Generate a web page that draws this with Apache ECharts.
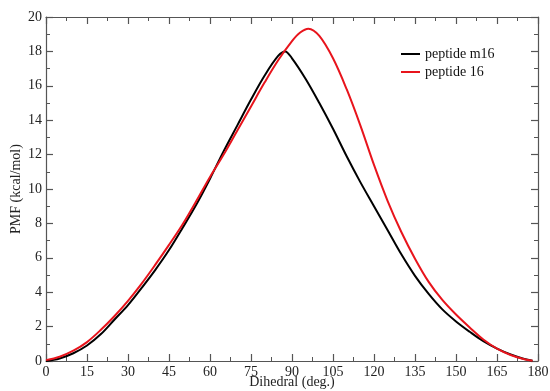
<!DOCTYPE html>
<html>
<head>
<meta charset="utf-8">
<script src="https://cdn.jsdelivr.net/npm/echarts@6/dist/echarts.min.js"></script>
<style>html,body{margin:0;padding:0;background:#fff}#c{width:550px;height:391px}</style>
</head>
<body>
<div id="c"></div>
<script>
var m16Deg = [0,5,10,15,20,25,30,35,40,45,50,55,60,65,70,75,80,85,87.5,90,95,100,105,110,115,120,125,130,135,140,145,150,155,160,165,170,175,178];
var m16Val = [0.0,0.15,0.45,0.9,1.55,2.4,3.25,4.25,5.3,6.45,7.75,9.1,10.6,12.2,13.7,15.2,16.6,17.75,18.0,17.6,16.4,15.0,13.5,11.9,10.4,9.0,7.6,6.2,4.95,3.9,3.0,2.3,1.7,1.15,0.72,0.38,0.12,0.02];
var p16Deg = [0,5,10,15,20,25,30,35,40,45,50,55,60,65,70,75,80,85,90,93,96,100,105,110,115,120,125,130,135,140,145,150,155,160,165,170,175,178];
var p16Val = [0.05,0.25,0.6,1.1,1.8,2.6,3.5,4.5,5.6,6.75,7.95,9.3,10.7,12.0,13.4,14.8,16.2,17.5,18.6,19.1,19.32,18.9,17.6,15.8,13.7,11.4,9.3,7.5,5.95,4.6,3.55,2.7,1.95,1.25,0.72,0.35,0.1,0.02];
var xTicks = {min:0, max:180, interval:15};
var yTicks = {min:0, max:20, interval:2};

function pairs(xs, ys){ return xs.map(function(x,i){return [x, ys[i]];}); }

var font = '"Liberation Serif","DejaVu Serif",serif';
var axisCol = '#555';
function axisBase(extra){
  var o = {
    type:'value',
    nameMoveOverlap:false,
    axisLine:{show:true, onZero:false, lineStyle:{color:axisCol, width:1.2}},
    axisTick:{show:true, inside:true, length:7, lineStyle:{color:axisCol, width:1.2}},
    minorTick:{show:true, splitNumber:2, length:4, lineStyle:{color:axisCol, width:1}},
    splitLine:{show:false},
    axisLabel:{color:'#222', fontFamily:font, fontSize:14}
  };
  for (var k in extra) o[k] = extra[k];
  return o;
}

var chart = echarts.init(document.getElementById('c'), null, {renderer:'canvas'});
chart.setOption({
  animation:false,
  backgroundColor:'#fff',
  grid:{left:46, right:12, top:17, bottom:30, containLabel:false, outerBoundsMode:'none'},
  legend:{
    orient:'vertical', left:396, top:42, itemWidth:19, itemHeight:2, itemGap:4,
    icon:'rect',
    textStyle:{fontFamily:font, fontSize:14, color:'#111'},
    data:['peptide m16','peptide 16']
  },
  xAxis:[
    axisBase({position:'bottom', min:xTicks.min, max:xTicks.max, interval:xTicks.interval,
      name:'Dihedral (deg.)', nameLocation:'middle', nameGap:14,
      nameTextStyle:{fontFamily:font, fontSize:14, color:'#222'},
      axisLabel:{color:'#222', fontFamily:font, fontSize:14, margin:4}}),
    axisBase({position:'top', min:xTicks.min, max:xTicks.max, interval:xTicks.interval,
      axisLabel:{show:false}})
  ],
  yAxis:[
    axisBase({position:'left', min:yTicks.min, max:yTicks.max, interval:yTicks.interval,
      name:'PMF (kcal/mol)', nameLocation:'middle', nameGap:23,
      nameTextStyle:{fontFamily:font, fontSize:14, color:'#222'},
      axisLabel:{color:'#222', fontFamily:font, fontSize:14, margin:4}}),
    axisBase({position:'right', min:yTicks.min, max:yTicks.max, interval:yTicks.interval,
      axisLabel:{show:false}})
  ],
  series:[
    {name:'peptide m16', type:'line', data:pairs(m16Deg, m16Val), showSymbol:false, smooth:0.35,
      lineStyle:{color:'#000', width:2}, itemStyle:{color:'#000'}},
    {name:'peptide 16', type:'line', data:pairs(p16Deg, p16Val), showSymbol:false, smooth:0.35,
      lineStyle:{color:'#e8141c', width:2}, itemStyle:{color:'#e8141c'}}
  ]
});
</script>
</body>
</html>
